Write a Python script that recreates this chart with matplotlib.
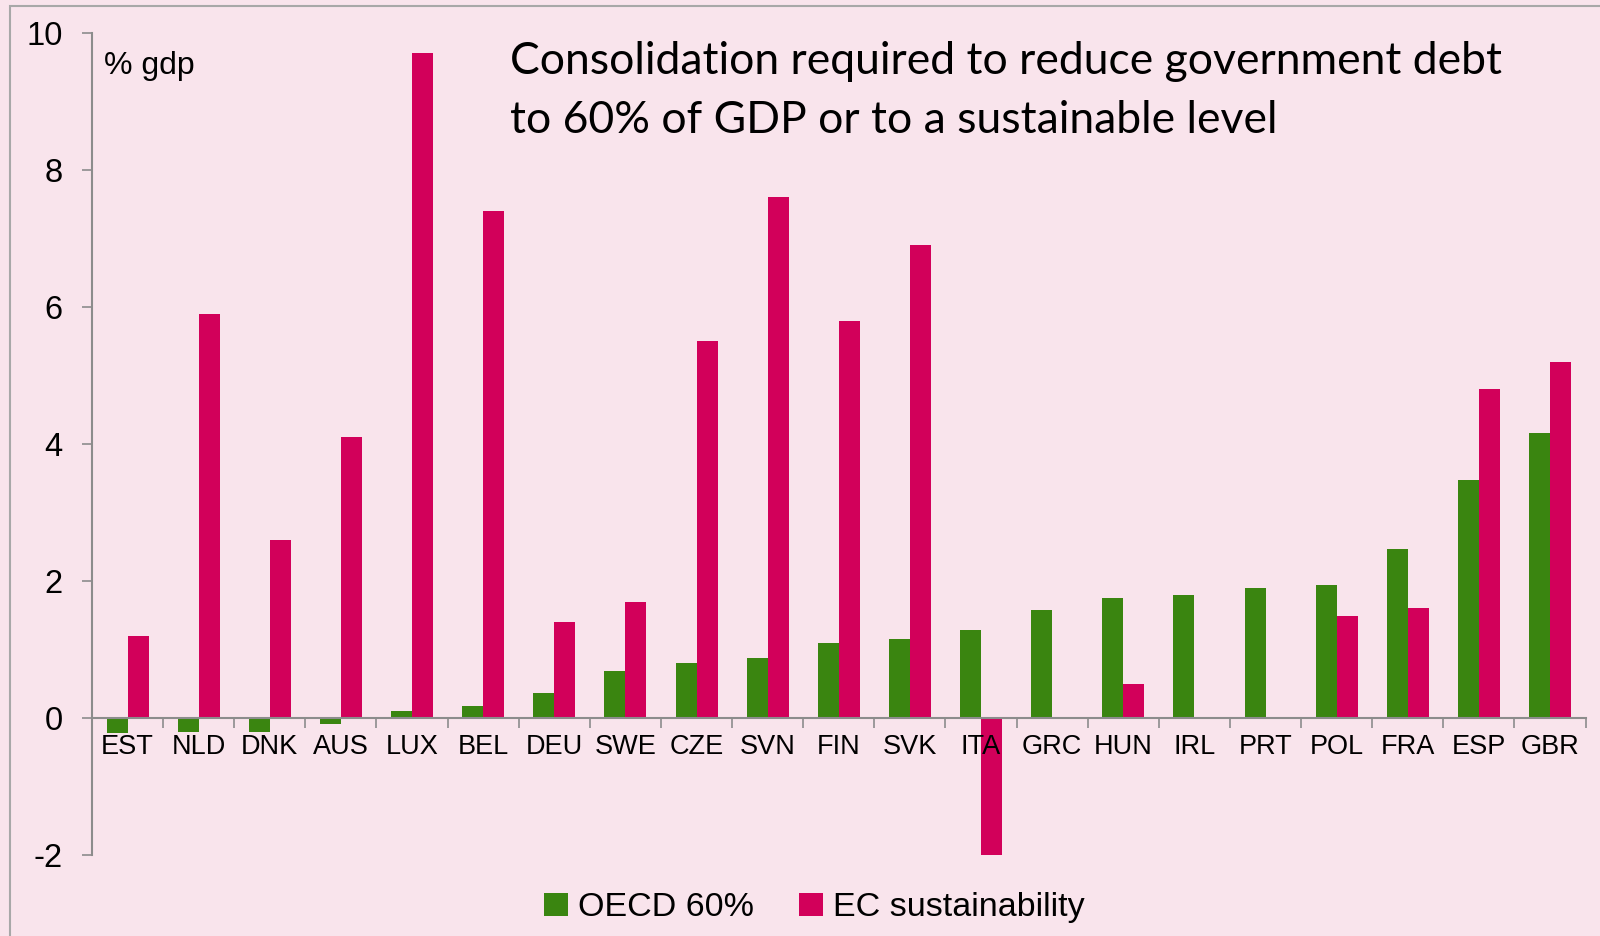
import numpy as np
import matplotlib
matplotlib.use("Agg")
import matplotlib.pyplot as plt
from matplotlib.patches import Rectangle

plt.rcParams['font.family'] = ['Liberation Sans', 'DejaVu Sans']

# data (% of GDP)
countries = ["EST", "NLD", "DNK", "AUS", "LUX", "BEL", "DEU", "SWE", "CZE", "SVN", "FIN",
             "SVK", "ITA", "GRC", "HUN", "IRL", "PRT", "POL", "FRA", "ESP", "GBR"]
oecd_60 = [-0.22, -0.2, -0.2, -0.09, 0.1, 0.18, 0.37, 0.69, 0.8, 0.87, 1.09,
           1.15, 1.28, 1.58, 1.75, 1.79, 1.9, 1.94, 2.46, 3.48, 4.16]
ec_sust = [1.2, 5.9, 2.6, 4.1, 9.7, 7.4, 1.4, 1.7, 5.5, 7.6, 5.8,
           6.9, -2.05, 0, 0.5, 0, 0, 1.49, 1.6, 4.8, 5.19]
yticks = [-2, 0, 2, 4, 6, 8, 10]

bg = "#F9E4EC"
green = "#3A8510"
pink = "#D2005A"
grey = "#8C8C8C"

fig = plt.figure(figsize=(16, 9.36), dpi=100, facecolor=bg)
ax = fig.add_axes([0.0575, 0.0865, 0.9335, 0.8785])
ax.set_facecolor(bg)

# outer frame
fig.patches.append(Rectangle((0.0065, -0.1), 1.2, 1.094, transform=fig.transFigure,
                             fill=False, edgecolor="#A8A8A8", linewidth=1.5))

x = np.arange(len(countries))
wt = 0.295
ax.bar(x - wt / 2, oecd_60, width=wt, color=green, label="OECD 60%", zorder=2)
ax.bar(x + wt / 2, ec_sust, width=wt, color=pink, label="EC sustainability", zorder=2)

ax.set_xlim(-0.5, len(countries) - 0.5)
ax.set_ylim(-2, 10)
ax.set_yticks(yticks)
ax.set_yticklabels([str(v) for v in yticks], fontsize=23.5)
ax.tick_params(axis='y', length=7, width=1.2, color=grey, pad=14)

# x axis sits at zero, ticks between categories
for s in ["top", "right"]:
    ax.spines[s].set_visible(False)
ax.spines["bottom"].set_position(("data", 0))
ax.spines["bottom"].set_color(grey)
ax.spines["bottom"].set_linewidth(1.5)
ax.spines["left"].set_color(grey)
ax.spines["left"].set_linewidth(1.5)
ax.set_xticks(np.arange(len(countries) + 1) - 0.5)
ax.set_xticklabels([])
ax.tick_params(axis='x', length=7, width=1.2, color=grey, direction='out')
for i, c in enumerate(countries):
    ax.text(i, -0.42, c, ha='center', va='center', fontsize=19.5, zorder=3)

ax.text(0.008, 0.96, "% gdp", transform=ax.transAxes, fontsize=23, va='center')
fig.text(0.319, 0.903, "Consolidation required to reduce government debt\nto 60% of GDP or to a sustainable level",
         fontsize=32, family=['Lato', 'DejaVu Sans'], va='center', ha='left', linespacing=1.53)

leg = fig.legend(loc='center', bbox_to_anchor=(0.509, 0.03), ncol=2, frameon=False,
                 fontsize=24.5, handlelength=0.7, handleheight=0.7, handletextpad=0.3,
                 columnspacing=1.3)

fig.savefig("out.png", dpi=100, facecolor=bg)
